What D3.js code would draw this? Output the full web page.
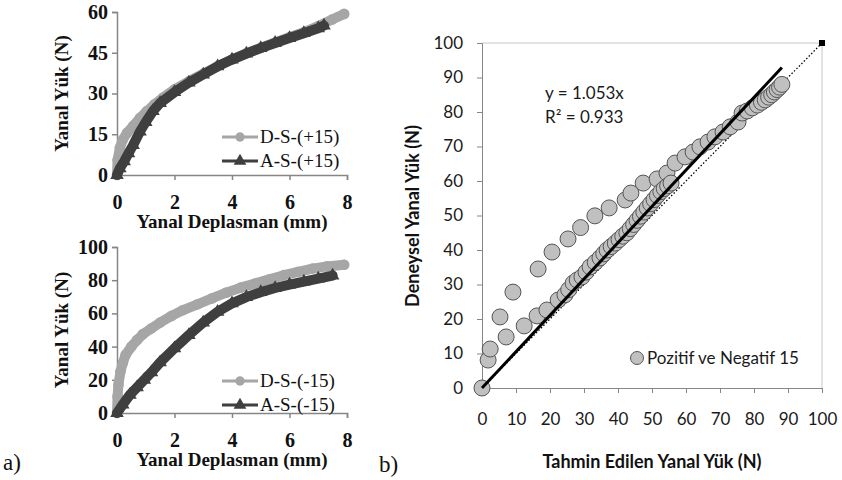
<!DOCTYPE html>
<html>
<head>
<meta charset="utf-8">
<script src="https://cdn.jsdelivr.net/npm/d3@7"></script>
<style>
  body { margin: 0; background: #fff; }
  .serif text, text.serif { font-family: "Liberation Serif", "Times New Roman", serif; }
  .sans text, text.sans { font-family: Lato, "Open Sans", sans-serif; }
</style>
</head>
<body>
<div id="chart"></div>
<script>
const W = 842, H = 480;

// ---- data: top-left, lateral load vs displacement, +15
const dsPosX = [0, 0.02, 0.1, 0.2, 0.35, 0.56, 0.8, 1.04, 1.3, 1.6, 2, 2.5, 3, 3.5, 4, 4.5, 5, 5.5, 6, 6.5, 7, 7.5, 7.9];
const dsPosY = [0, 5.5, 10, 13, 15.5, 18, 21, 23.5, 26, 28.5, 31.5, 34.5, 37.3, 40, 42.5, 44.8, 46.8, 48.8, 50.7, 52.6, 54.8, 57.3, 59.3];
const asPosX = [0, 0.1, 0.25, 0.4, 0.56, 0.8, 1.0, 1.25, 1.5, 2, 2.5, 3, 3.5, 4, 4.5, 5, 5.5, 6, 6.5, 7, 7.2];
const asPosY = [0, 2.5, 5, 8, 11, 16, 19.5, 23.5, 26.5, 30.5, 34, 37, 40, 42.5, 44.7, 46.7, 48.6, 50.4, 52.2, 54, 55];

// ---- data: bottom-left, -15
const dsNegX = [0, 0.02, 0.05, 0.12, 0.2, 0.3, 0.5, 0.7, 0.9, 1.2, 1.5, 1.9, 2.3, 2.8, 3.3, 3.8, 4.3, 4.8, 5.3, 5.8, 6.3, 6.8, 7.3, 7.9];
const dsNegY = [0, 10, 17, 25, 30, 35, 40, 44, 47.5, 51, 54.5, 58.5, 62, 65.5, 69, 72.5, 75.5, 78, 80.5, 83, 85, 87, 88.3, 89.3];
const asNegX = [0, 0.2, 0.45, 0.7, 0.95, 1.2, 1.5, 2, 2.5, 3, 3.5, 4, 4.5, 5, 5.5, 6, 6.5, 7, 7.5];
const asNegY = [0, 5, 11, 15.5, 20, 24.5, 30.5, 39, 47, 54.5, 61, 66, 69.8, 72.8, 75.3, 77.3, 79.2, 81, 82.8];

// ---- data: right, experimental vs predicted
const predA = [1.8, 2.4, 5.3, 9.1, 16.5, 20.6, 25.3, 29.0, 33.2, 37.4, 42.1, 43.8, 47.4, 51.5, 54.4, 56.8, 59.7, 62.1, 64.1, 66.5, 68.5, 70.9, 73.0, 75.3, 76.5, 78.0, 79.5, 81.0, 82.2, 83.3, 84.3, 85.2, 86.0, 86.8, 87.5, 88.2];
const expA  = [8.1, 11.3, 20.6, 27.8, 34.5, 39.4, 43.2, 46.5, 49.9, 52.2, 54.5, 56.5, 59.4, 60.6, 62.3, 65.2, 67.0, 68.4, 69.9, 71.3, 72.8, 74.2, 75.7, 77.1, 79.7, 80.3, 81.2, 82.0, 82.8, 83.5, 84.3, 85.0, 85.8, 86.5, 87.2, 88.0];
const predB = [0, 7.1, 12.4, 16.2, 19.1, 22.4, 24.4, 25.5, 26.8, 28.0, 29.4, 30.6, 31.8, 33.3, 34.7, 35.8, 36.8, 38.0, 39.2, 40.3, 41.4, 42.6, 43.6, 44.6, 45.6, 46.6, 47.6, 48.6, 49.6, 50.6, 51.6, 52.6, 53.6, 54.6, 55.6];
const expB  = [0, 14.8, 18.0, 20.9, 22.6, 25.5, 27.0, 28.5, 30.4, 31.3, 32.2, 33.6, 35.1, 36.4, 37.7, 38.9, 40.0, 41.0, 42.0, 43.0, 44.0, 45.0, 46.2, 47.4, 48.6, 49.8, 51.0, 52.2, 53.4, 54.6, 55.8, 56.9, 57.8, 58.6, 59.4];
const slope = 1.053;
const trendEnd = 88.2;

const xTicksL = [0, 2, 4, 6, 8];
const yTicksTop = [0, 15, 30, 45, 60];
const yTicksBot = [0, 20, 40, 60, 80, 100];
const ticksR = d3.range(0, 101, 10);

const gray = "#a6a6a6", dark = "#3f3f3f", axisCol = "#868686";

const svg = d3.select("#chart").append("svg")
  .attr("width", W).attr("height", H);

const zip = (xs, ys) => xs.map((x, i) => [x, ys[i]]);

// left panels
function leftPanel(yRange, yMax, yTicks, series, legendY, labels) {
  const g = svg.append("g").attr("class", "serif");
  const x = d3.scaleLinear().domain([0, 8]).range([117, 347]);
  const y = d3.scaleLinear().domain([0, yMax]).range(yRange);

  g.append("g")
    .attr("transform", `translate(117,0)`)
    .call(d3.axisLeft(y).tickValues(yTicks).tickSize(5).tickPadding(4))
    .call(a => a.selectAll("text").attr("font-size", 20).attr("font-weight", "bold").attr("fill", "#111"));
  g.append("g")
    .attr("transform", `translate(0,${yRange[0]})`)
    .call(d3.axisBottom(x).tickValues(xTicksL).tickSize(5).tickPadding(15))
    .call(a => a.selectAll("text").attr("font-size", 20).attr("font-weight", "bold").attr("fill", "#111"));
  g.selectAll(".domain, .tick line").attr("stroke", axisCol).attr("stroke-width", 1.5);

  const line = d3.line().x(d => x(d[0])).y(d => y(d[1]));
  series.forEach(s => {
    const pts = zip(s.xs, s.ys);
    g.append("path").datum(pts)
      .attr("d", line).attr("fill", "none")
      .attr("stroke", s.color).attr("stroke-width", 10)
      .attr("stroke-linejoin", "round").attr("stroke-linecap", "round");
    const sym = d3.symbol().type(s.shape).size(s.shape === d3.symbolCircle ? 90 : 80);
    g.selectAll(null).data(pts).enter().append("path")
      .attr("d", sym)
      .attr("transform", d => `translate(${x(d[0])},${y(d[1])})`)
      .attr("fill", s.color);
  });

  // legend
  series.forEach((s, i) => {
    const ly = legendY + i * 24;
    g.append("line").attr("x1", 222).attr("x2", 258).attr("y1", ly).attr("y2", ly)
      .attr("stroke", s.color).attr("stroke-width", 3);
    g.append("path").attr("d", d3.symbol().type(s.shape).size(70))
      .attr("transform", `translate(240,${ly})`).attr("fill", s.color);
    g.append("text").attr("x", 260).attr("y", ly + 6).attr("font-size", 19)
      .attr("fill", "#111").text(labels[i]);
  });

  // axis titles
  const cy = (yRange[0] + yRange[1]) / 2;
  g.append("text").attr("transform", `translate(68,${cy}) rotate(-90)`)
    .attr("text-anchor", "middle").attr("font-size", 19).attr("font-weight", "bold")
    .attr("fill", "#111").text("Yanal Yük (N)");
  g.append("text").attr("x", 232).attr("y", yRange[0] + 53)
    .attr("text-anchor", "middle").attr("font-size", 19).attr("font-weight", "bold")
    .attr("fill", "#111").text("Yanal Deplasman (mm)");
}

leftPanel([175, 12], 60, yTicksTop, [
  { xs: dsPosX, ys: dsPosY, color: gray, shape: d3.symbolCircle },
  { xs: asPosX, ys: asPosY, color: dark, shape: d3.symbolTriangle }
], 137, ["D-S-(+15)", "A-S-(+15)"]);

leftPanel([413, 247], 100, yTicksBot, [
  { xs: dsNegX, ys: dsNegY, color: gray, shape: d3.symbolCircle },
  { xs: asNegX, ys: asNegY, color: dark, shape: d3.symbolTriangle }
], 381, ["D-S-(-15)", "A-S-(-15)"]);

svg.append("text").attr("class", "serif").attr("x", 3).attr("y", 470)
  .attr("font-size", 23).attr("fill", "#111").text("a)");

// right panel
const gR = svg.append("g").attr("class", "sans");
const xR = d3.scaleLinear().domain([0, 100]).range([482, 822]);
const yR = d3.scaleLinear().domain([0, 100]).range([388, 43]);

// frame
gR.append("path")
  .attr("d", `M${xR(0)},${yR(100)}H${xR(100)}V${yR(0)}`)
  .attr("fill", "none").attr("stroke", "#c8c8c8").attr("stroke-width", 1);

gR.append("g").attr("transform", `translate(482,0)`)
  .call(d3.axisLeft(yR).tickValues(ticksR).tickSize(5).tickPadding(14))
  .call(a => a.selectAll("text").attr("font-size", 17).attr("fill", "#1a1a1a"));
gR.append("g").attr("transform", `translate(0,388)`)
  .call(d3.axisBottom(xR).tickValues(ticksR).tickSize(5).tickPadding(20))
  .call(a => a.selectAll("text").attr("font-size", 17).attr("fill", "#1a1a1a"));
gR.selectAll(".domain, .tick line").attr("stroke", axisCol).attr("stroke-width", 1);

// 1:1 reference line
gR.append("line")
  .attr("x1", xR(0)).attr("y1", yR(0)).attr("x2", xR(100)).attr("y2", yR(100))
  .attr("stroke", "#000").attr("stroke-width", 1.3).attr("stroke-dasharray", "1.5,2");
gR.append("rect").attr("x", xR(100) - 3).attr("y", yR(100) - 3)
  .attr("width", 6).attr("height", 6).attr("fill", "#000");

const pts = zip(predA, expA).concat(zip(predB, expB));
gR.selectAll(".pt").data(pts).enter().append("circle")
  .attr("class", "pt")
  .attr("cx", d => xR(d[0])).attr("cy", d => yR(d[1])).attr("r", 8)
  .attr("fill", "#c0c0c0").attr("stroke", "#555").attr("stroke-width", 1);

// trendline
gR.append("line")
  .attr("x1", xR(0)).attr("y1", yR(0)).attr("x2", xR(trendEnd)).attr("y2", yR(slope * trendEnd))
  .attr("stroke", "#000").attr("stroke-width", 3);

gR.append("text").attr("x", 545).attr("y", 99).attr("font-size", 17).attr("fill", "#1a1a1a")
  .text("y = 1.053x");
gR.append("text").attr("x", 545).attr("y", 123).attr("font-size", 17).attr("fill", "#1a1a1a")
  .text("R² = 0.933");

// legend
gR.append("circle").attr("cx", 637).attr("cy", 358).attr("r", 6.5)
  .attr("fill", "#c0c0c0").attr("stroke", "#555");
gR.append("text").attr("x", 647).attr("y", 364).attr("font-size", 17).attr("fill", "#1a1a1a")
  .text("Pozitif ve Negatif 15");

// titles
gR.append("text").attr("transform", `translate(419,216) rotate(-90)`)
  .attr("text-anchor", "middle").attr("font-size", 18).attr("font-weight", "bold")
  .attr("fill", "#111").text("Deneysel Yanal Yük (N)");
gR.append("text").attr("x", 652).attr("y", 468)
  .attr("text-anchor", "middle").attr("font-size", 18).attr("font-weight", "bold")
  .attr("fill", "#111").text("Tahmin Edilen Yanal Yük (N)");

svg.append("text").attr("class", "serif").attr("x", 379).attr("y", 472)
  .attr("font-size", 23).attr("fill", "#111").text("b)");
</script>
</body>
</html>
